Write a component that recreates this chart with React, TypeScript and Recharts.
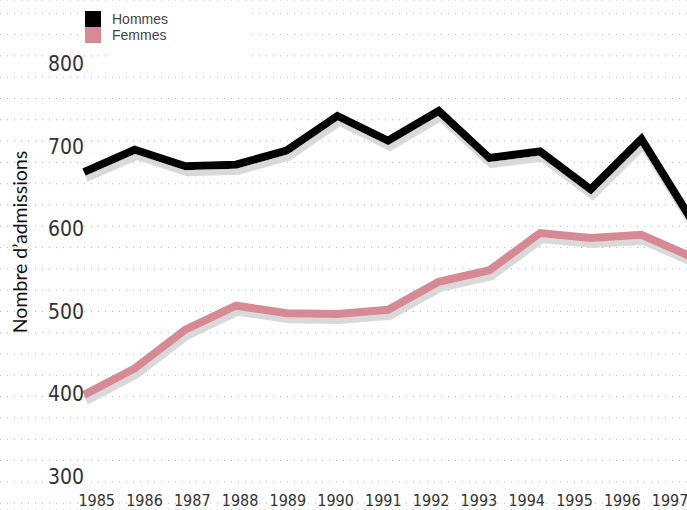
import React from 'react';
import { LineChart, Line, XAxis, YAxis, CartesianGrid, Legend } from 'recharts';

const years = [1985, 1986, 1987, 1988, 1989, 1990, 1991, 1992, 1993, 1994, 1995, 1996, 1997];
const hommes = [669, 696, 676, 678, 695, 737, 707, 743, 686, 694, 648, 709, 610];
const femmes = [399, 431, 478, 507, 498, 497, 502, 536, 550, 595, 589, 593, 566];
const yTicks = [300, 400, 500, 600, 700, 800];
const gridRows = Array.from({ length: 24 }, (_, i) => i);

const seriesNames = { hommes: 'Hommes', femmes: 'Femmes' };
const seriesColors = { hommes: '#000000', femmes: '#d78a96' };

const data = years.map((year, i) => ({ year, hommes: hommes[i], femmes: femmes[i] }));

const numFont = '"Liberation Sans Narrow", "Arial Narrow", "DejaVu Sans Condensed", sans-serif';

const LegendContent = () => (
  <div style={{ position: 'relative', width: 163, height: 43, background: '#fff' }}>
    {(['hommes', 'femmes'] as const).map((k, i) => (
      <div key={k} style={{ position: 'absolute', left: 2, top: 7 + i * 16, height: 16, display: 'flex', alignItems: 'center' }}>
        <div style={{ width: 16, height: 16, background: seriesColors[k] }} />
        <span style={{ marginLeft: 11, fontFamily: '"Liberation Sans", Arial, sans-serif', fontSize: 14, color: '#444', lineHeight: '16px' }}>
          {seriesNames[k]}
        </span>
      </div>
    ))}
    <div style={{ position: 'absolute', left: 27, top: 43, width: 137, height: 15, background: '#fff' }} />
  </div>
);

const YTitle = () => (
  <text
    x={27}
    y={242}
    transform="rotate(-90 27 242)"
    textAnchor="middle"
    fontFamily="Lato, 'Open Sans', sans-serif"
    fontSize={19.5}
    fill="#111"
  >
    Nombre d’admissions
  </text>
);

const YearTick = (props: any) => (
  <text
    x={props.x}
    y={506}
    textAnchor="middle"
    fill="#333"
    fontSize={16}
    fontFamily={numFont}
  >
    {props.payload.value}
  </text>
);

export default function App() {
  return (
    <div style={{ position: 'absolute', left: 0, top: 0 }}>
      <LineChart width={687} height={510} data={data} margin={{ top: 0, right: 0, bottom: 0, left: 0 }}>
        <defs>
          <filter id="lineShadow" filterUnits="userSpaceOnUse" x="0" y="0" width="700" height="520">
            <feOffset in="SourceAlpha" dx="2" dy="6" result="off" />
            <feFlood floodColor="#d9d9d9" result="col" />
            <feComposite in="col" in2="off" operator="in" result="shadow" />
            <feMerge>
              <feMergeNode in="shadow" />
              <feMergeNode in="SourceGraphic" />
            </feMerge>
          </filter>
        </defs>
        <CartesianGrid
          xAxisId="data"
          yAxisId="grid"
          horizontal
          vertical={false}
          stroke="#b5b5b5"
          strokeDasharray="1 6"
        />
        <XAxis xAxisId="data" dataKey="year" type="number" domain={[1983.342, 1996.9]} allowDataOverflow hide />
        <XAxis
          xAxisId="labels"
          dataKey="year"
          type="number"
          domain={[1982.976, 1997.355]}
          allowDataOverflow
          ticks={years}
          interval={0}
          orientation="bottom"
          mirror
          axisLine={false}
          tickLine={false}
          tickSize={0}
          tickMargin={2}
          tick={<YearTick />}
        />
        <YAxis
          yAxisId="main"
          type="number"
          domain={[259.4, 877.6]}
          allowDataOverflow
          ticks={yTicks}
          interval={0}
          orientation="left"
          mirror
          axisLine={false}
          tickLine={false}
          tickSize={0}
          tickMargin={48}
          tick={{ fill: '#333', fontSize: 21, fontFamily: numFont }}
          label={{ content: () => <YTitle /> }}
        />
        <YAxis
          yAxisId="grid"
          type="number"
          domain={[-0.6244, 23.32]}
          reversed
          allowDataOverflow
          ticks={gridRows}
          interval={0}
          hide
        />
        <Line
          xAxisId="data"
          yAxisId="main"
          dataKey="femmes"
          name={seriesNames.femmes}
          stroke={seriesColors.femmes}
          strokeWidth={8}
          strokeLinejoin="miter"
          dot={false}
          activeDot={false}
          isAnimationActive={false}
          filter="url(#lineShadow)"
        />
        <Line
          xAxisId="data"
          yAxisId="main"
          dataKey="hommes"
          name={seriesNames.hommes}
          stroke={seriesColors.hommes}
          strokeWidth={8}
          strokeLinejoin="miter"
          dot={false}
          activeDot={false}
          isAnimationActive={false}
          filter="url(#lineShadow)"
        />
        <Legend
          layout="horizontal"
          verticalAlign="middle"
          align="center"
          content={<LegendContent />}
          wrapperStyle={{ left: 83, top: 4, width: 163, height: 43 }}
        />
      </LineChart>
    </div>
  );
}
